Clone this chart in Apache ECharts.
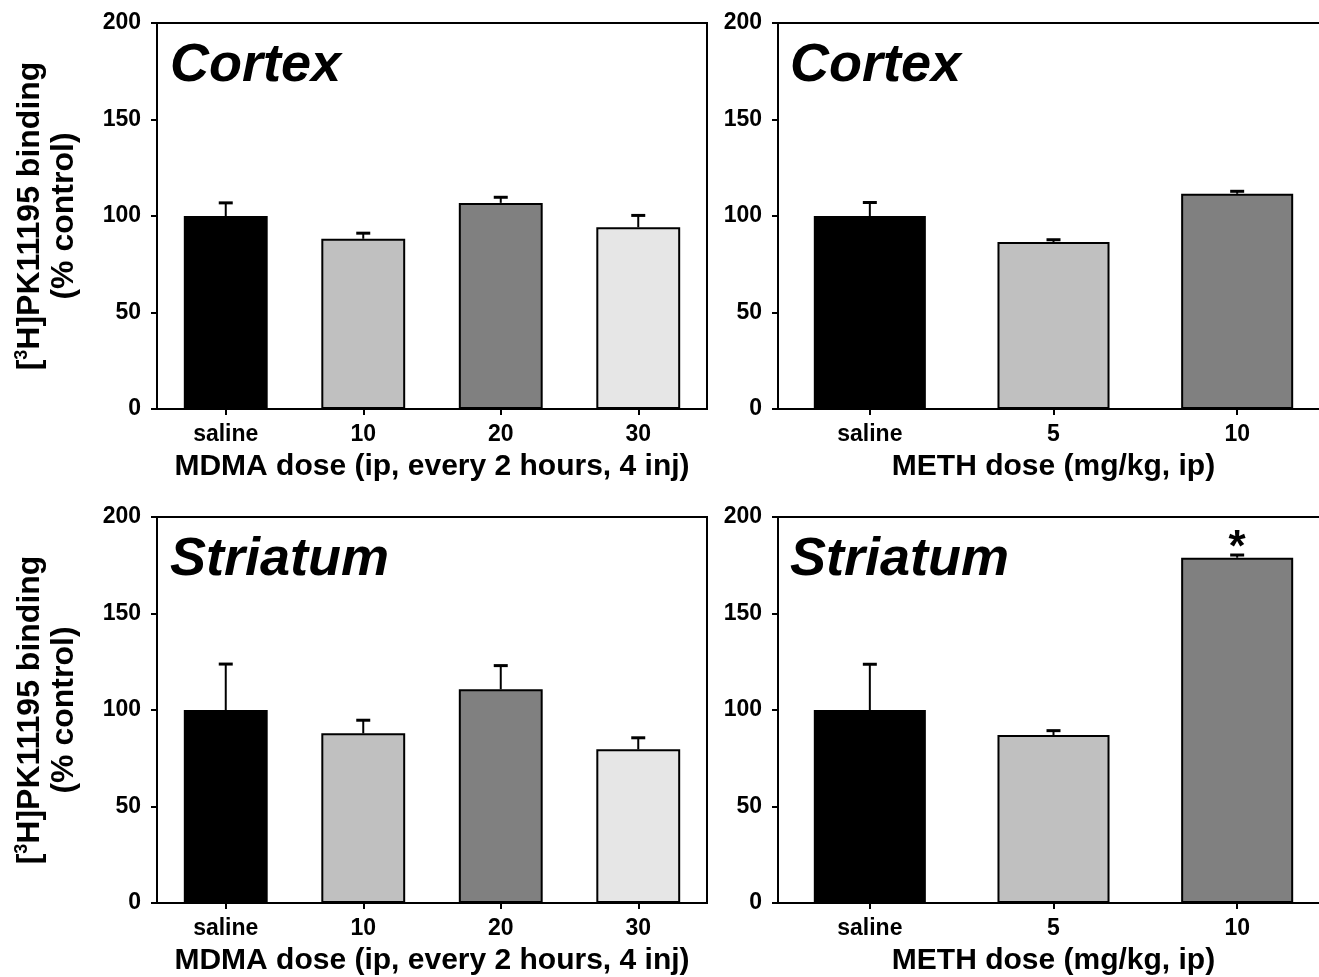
<!DOCTYPE html>
<html>
<head>
<meta charset="utf-8">
<script src="https://cdn.jsdelivr.net/npm/echarts@6/dist/echarts.min.js"></script>
<style>
html,body{margin:0;padding:0;background:#fff;}
#chart{width:1319px;height:977px;}
</style>
</head>
<body>
<div id="chart"></div>
<script>
// ---- data ----
const mdmaCategories = ['saline', '10', '20', '30'];
const methCategories = ['saline', '5', '10'];
const yTicks = [0, 50, 100, 150, 200];

const cortexMdmaMean = [100, 88.2, 106.8, 94.2];
const cortexMdmaSem  = [6.8, 2.9, 2.9, 6.1];
const cortexMethMean = [100, 86.5, 111.5];
const cortexMethSem  = [7.0, 1.2, 1.3];

const striatumMdmaMean = [100, 87.9, 110.7, 79.6];
const striatumMdmaSem  = [23.8, 6.8, 12.3, 6.0];
const striatumMethMean = [100, 87.0, 178.9];
const striatumMethSem  = [23.7, 2.3, 1.4];
const striatumMethSig  = ['', '', '*'];

const mdmaColors = ['#000000', '#c0c0c0', '#808080', '#e6e6e6'];
const methColors = ['#000000', '#c0c0c0', '#808080'];

const panelTitles = ['Cortex', 'Cortex', 'Striatum', 'Striatum'];
const mdmaAxisName = 'MDMA dose (ip, every 2 hours, 4 inj)';
const methAxisName = 'METH dose (mg/kg, ip)';

// ---- layout ----
const FONT = '"Liberation Sans", Arial, Helvetica, sans-serif';
const grids = [
  {left: 157, top: 23, width: 550, height: 386},
  {left: 778, top: 23, width: 551, height: 386},
  {left: 157, top: 517, width: 550, height: 386},
  {left: 778, top: 517, width: 551, height: 386}
];
const panels = [
  {cats: mdmaCategories, mean: cortexMdmaMean, sem: cortexMdmaSem, colors: mdmaColors, name: mdmaAxisName, yName: true, sig: null},
  {cats: methCategories, mean: cortexMethMean, sem: cortexMethSem, colors: methColors, name: methAxisName, yName: false, sig: null},
  {cats: mdmaCategories, mean: striatumMdmaMean, sem: striatumMdmaSem, colors: mdmaColors, name: mdmaAxisName, yName: true, sig: null},
  {cats: methCategories, mean: striatumMethMean, sem: striatumMethSem, colors: methColors, name: methAxisName, yName: false, sig: striatumMethSig}
];

const option = {
  animation: false,
  backgroundColor: '#ffffff',
  title: panelTitles.map((t, i) => ({
    text: t,
    left: grids[i].left + (i % 2 === 0 ? 13 : 12),
    top: grids[i].top + 16,
    padding: 0,
    textStyle: {fontFamily: FONT, fontSize: 54, fontWeight: 'bold', fontStyle: 'italic', color: '#000'}
  })),
  grid: grids.map(g => Object.assign({show: true, borderColor: '#000', borderWidth: 2, backgroundColor: 'transparent',
    containLabel: false, outerBoundsMode: 'none'}, g)),
  xAxis: panels.map((p, i) => ({
    type: 'category',
    gridIndex: i,
    data: p.cats,
    name: p.name,
    nameLocation: 'middle',
    nameGap: 43,
    nameTextStyle: {fontFamily: FONT, fontSize: 30, fontWeight: 'bold', color: '#000'},
    axisLine: {show: true, lineStyle: {color: '#000', width: 2}},
    axisTick: {show: true, alignWithLabel: true, length: 6, lineStyle: {color: '#000', width: 2}},
    axisLabel: {margin: 14, fontFamily: FONT, fontSize: 23, fontWeight: 'bold', color: '#000'},
    splitLine: {show: false}
  })),
  yAxis: panels.map((p, i) => ({
    type: 'value',
    gridIndex: i,
    min: yTicks[0],
    max: yTicks[yTicks.length - 1],
    interval: 50,
    name: p.yName ? '{b|[}{sup|3}{b|H]PK11195 binding}\n{b|(% control)}' : '',
    nameLocation: 'middle',
    nameRotate: 90,
    nameGap: 76,
    nameTextStyle: {
      fontFamily: FONT, fontWeight: 'bold', color: '#000', fontSize: 32, lineHeight: 34,
      rich: {
        b: {fontFamily: FONT, fontWeight: 'bold', fontSize: 32, color: '#000', lineHeight: 34},
        sup: {fontFamily: FONT, fontWeight: 'bold', fontSize: 18, color: '#000', verticalAlign: 'top', lineHeight: 34, padding: [0, 0, 12, 0]}
      }
    },
    axisLine: {show: true, lineStyle: {color: '#000', width: 2}},
    axisTick: {show: true, length: 6, lineStyle: {color: '#000', width: 2}},
    axisLabel: {margin: 16, fontFamily: FONT, fontSize: 23, fontWeight: 'bold', color: '#000'},
    splitLine: {show: false}
  })),
  series: []
};

panels.forEach((p, i) => {
  option.series.push({
    type: 'bar',
    xAxisIndex: i,
    yAxisIndex: i,
    barWidth: '61%',
    z: 2,
    data: p.mean.map((v, k) => {
      const item = {value: v, itemStyle: {color: p.colors[k], borderColor: '#000', borderWidth: 2}};
      if (p.sig && p.sig[k]) {
        item.label = {show: true, position: 'top', distance: -13, formatter: p.sig[k],
          fontFamily: FONT, fontSize: 44, fontWeight: 'bold', color: '#000'};
      }
      return item;
    })
  });
  option.series.push({
    type: 'custom',
    xAxisIndex: i,
    yAxisIndex: i,
    z: 3,
    data: p.mean.map((v, k) => [k, v, p.sem[k]]),
    renderItem: function (params, api) {
      const idx = api.value(0);
      const m = api.value(1);
      const e = api.value(2);
      const base = api.coord([idx, m]);
      const top = api.coord([idx, m + e]);
      const half = 7;
      return {
        type: 'group',
        children: [
          {type: 'line', shape: {x1: base[0], y1: base[1], x2: top[0], y2: top[1]}, style: {stroke: '#000', lineWidth: 2}},
          {type: 'line', shape: {x1: top[0] - half, y1: top[1], x2: top[0] + half, y2: top[1]}, style: {stroke: '#000', lineWidth: 3}}
        ]
      };
    }
  });
});

const chart = echarts.init(document.getElementById('chart'), null, {renderer: 'canvas'});
chart.setOption(option);
</script>
</body>
</html>
